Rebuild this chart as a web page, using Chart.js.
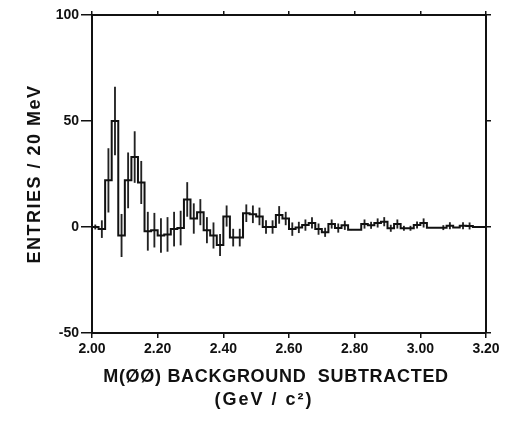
<!DOCTYPE html>
<html>
<head>
<meta charset="utf-8">
<script src="https://cdn.jsdelivr.net/npm/chart.js@4/dist/chart.umd.min.js"></script>
<style>
  html, body { margin: 0; padding: 0; background: #fff; }
</style>
</head>
<body>
<canvas id="chart" width="511" height="441"></canvas>
<script>
// 20 MeV bins, left edges (GeV/c^2)
const binLow = [
  2.00, 2.02, 2.04, 2.06, 2.08, 2.10, 2.12, 2.14, 2.16, 2.18,
  2.20, 2.22, 2.24, 2.26, 2.28, 2.30, 2.32, 2.34, 2.36, 2.38,
  2.40, 2.42, 2.44, 2.46, 2.48, 2.50, 2.52, 2.54, 2.56, 2.58,
  2.60, 2.62, 2.64, 2.66, 2.68, 2.70, 2.72, 2.74, 2.76, 2.78,
  2.80, 2.82, 2.84, 2.86, 2.88, 2.90, 2.92, 2.94, 2.96, 2.98,
  3.00, 3.02, 3.04, 3.06, 3.08, 3.10, 3.12, 3.14, 3.16, 3.18
];
const binWidth = 0.02;

// background subtracted entries per bin
const entries = [
  0, -1, 22, 50, -4, 22, 33, 21, -2, -1.5,
  -4, -3.5, -1, -0.5, 13, 4, 7, -1.5, -4, -8.5,
  5, -5, -5, 6.5, 6, 5, 0, 0, 5.7, 4,
  -1, -0.2, 0.9, 1.9, -1, -2.5, 1.4, -0.5, 0.8, -1.3,
  -1.3, 1.4, 0.8, 1.9, 2.5, -0.6, 1.4, -0.6, -0.6, 0.9,
  1.9, -0.3, -0.3, -0.3, 0.6, -0.2, 0.6, 0.5, 0, 0
];

// +/- errors
const errors = [
  1, 4, 15, 16, 10, 13, 12, 10, 9, 8,
  8, 8, 8, 8, 8, 7, 6, 6, 6, 5,
  5, 4, 4, 4, 4, 4, 3, 3, 4, 3,
  3, 2.5, 2.5, 2.5, 2.5, 2, 2, 2, 2, 0,
  0, 2, 1.5, 2, 2, 1.5, 2, 1, 1, 1.5,
  2, 0, 0, 1, 1.5, 0, 1.5, 1.5, 0, 0
];

const xTicks = [2.00, 2.20, 2.40, 2.60, 2.80, 3.00, 3.20];
const yTicks = [-50, 0, 50, 100];

const ink = '#111';
const tickFont = { family: 'Liberation Sans', size: 14, weight: 'bold' };

// histogram outline: one point per left edge, plus the closing edge
const histo = binLow.map((x, i) => ({ x, y: entries[i] }));
histo.push({ x: binLow[binLow.length - 1] + binWidth, y: entries[entries.length - 1] });

const errBars = binLow.map((x, i) => ({
  x: x + binWidth / 2,
  y: [entries[i] - errors[i], entries[i] + errors[i]]
}));

const setX = s => { s.ticks = xTicks.map(v => ({ value: v })); };
const setY = s => { s.ticks = yTicks.map(v => ({ value: v })); };

const titles = {
  id: 'titles',
  afterDraw(c) {
    const ctx = c.ctx;
    const a = c.chartArea;
    ctx.save();
    ctx.fillStyle = ink;
    ctx.textAlign = 'center';
    ctx.textBaseline = 'middle';
    ctx.font = 'bold 18px "Liberation Sans"';
    ctx.letterSpacing = '0.7px';
    const cx = (a.left + a.right) / 2;
    ctx.fillText('M(ØØ) BACKGROUND  SUBTRACTED', cx - 13, a.bottom + 44);
    ctx.letterSpacing = '2px';
    ctx.fillText('(GeV / c²)', cx - 25, a.bottom + 67);
    ctx.translate(35, (a.top + a.bottom) / 2);
    ctx.rotate(-Math.PI / 2);
    ctx.letterSpacing = '1.5px';
    ctx.fillText('ENTRIES / 20 MeV', 0, 0);
    ctx.restore();
  }
};

new Chart(document.getElementById('chart'), {
  type: 'line',
  data: {
    datasets: [
      {
        type: 'line',
        data: histo,
        stepped: true,
        borderColor: ink,
        borderWidth: 2,
        pointRadius: 0,
        fill: false,
        order: 0
      },
      {
        type: 'bar',
        data: errBars,
        backgroundColor: '#222',
        borderWidth: 0,
        barThickness: 1.2,
        grouped: false,
        order: 1
      }
    ]
  },
  options: {
    responsive: false,
    animation: false,
    layout: { padding: 0 },
    plugins: { legend: { display: false }, tooltip: { enabled: false } },
    scales: {
      x: {
        type: 'linear', position: 'bottom', min: 2.0, max: 3.2, offset: false,
        afterBuildTicks: setX,
        afterFit: s => { s.height = 108; },
        border: { display: true, color: ink, width: 2 },
        grid: { drawOnChartArea: false, offset: false, color: ink, lineWidth: 1.5, tickLength: 5 },
        ticks: { color: ink, font: tickFont, padding: 3, maxRotation: 0, autoSkip: false,
                 callback: v => v.toFixed(2) }
      },
      x2: {
        type: 'linear', position: 'top', min: 2.0, max: 3.2, offset: false,
        afterBuildTicks: setX,
        afterFit: s => { s.height = 15; },
        border: { display: true, color: ink, width: 2 },
        grid: { drawOnChartArea: false, color: ink, lineWidth: 1.5, tickLength: 4 },
        ticks: { display: false }
      },
      y: {
        type: 'linear', position: 'left', min: -50, max: 100,
        afterBuildTicks: setY,
        afterFit: s => { s.width = 92; },
        border: { display: true, color: ink, width: 2 },
        grid: { drawOnChartArea: false, color: ink, lineWidth: 1.5, tickLength: 11 },
        ticks: { color: ink, font: tickFont, padding: 2 }
      },
      y2: {
        type: 'linear', position: 'right', min: -50, max: 100,
        afterBuildTicks: setY,
        afterFit: s => { s.width = 25; },
        border: { display: true, color: ink, width: 2 },
        grid: { drawOnChartArea: false, color: ink, lineWidth: 1.5, tickLength: 5 },
        ticks: { display: false }
      }
    }
  },
  plugins: [titles]
});
</script>
</body>
</html>
